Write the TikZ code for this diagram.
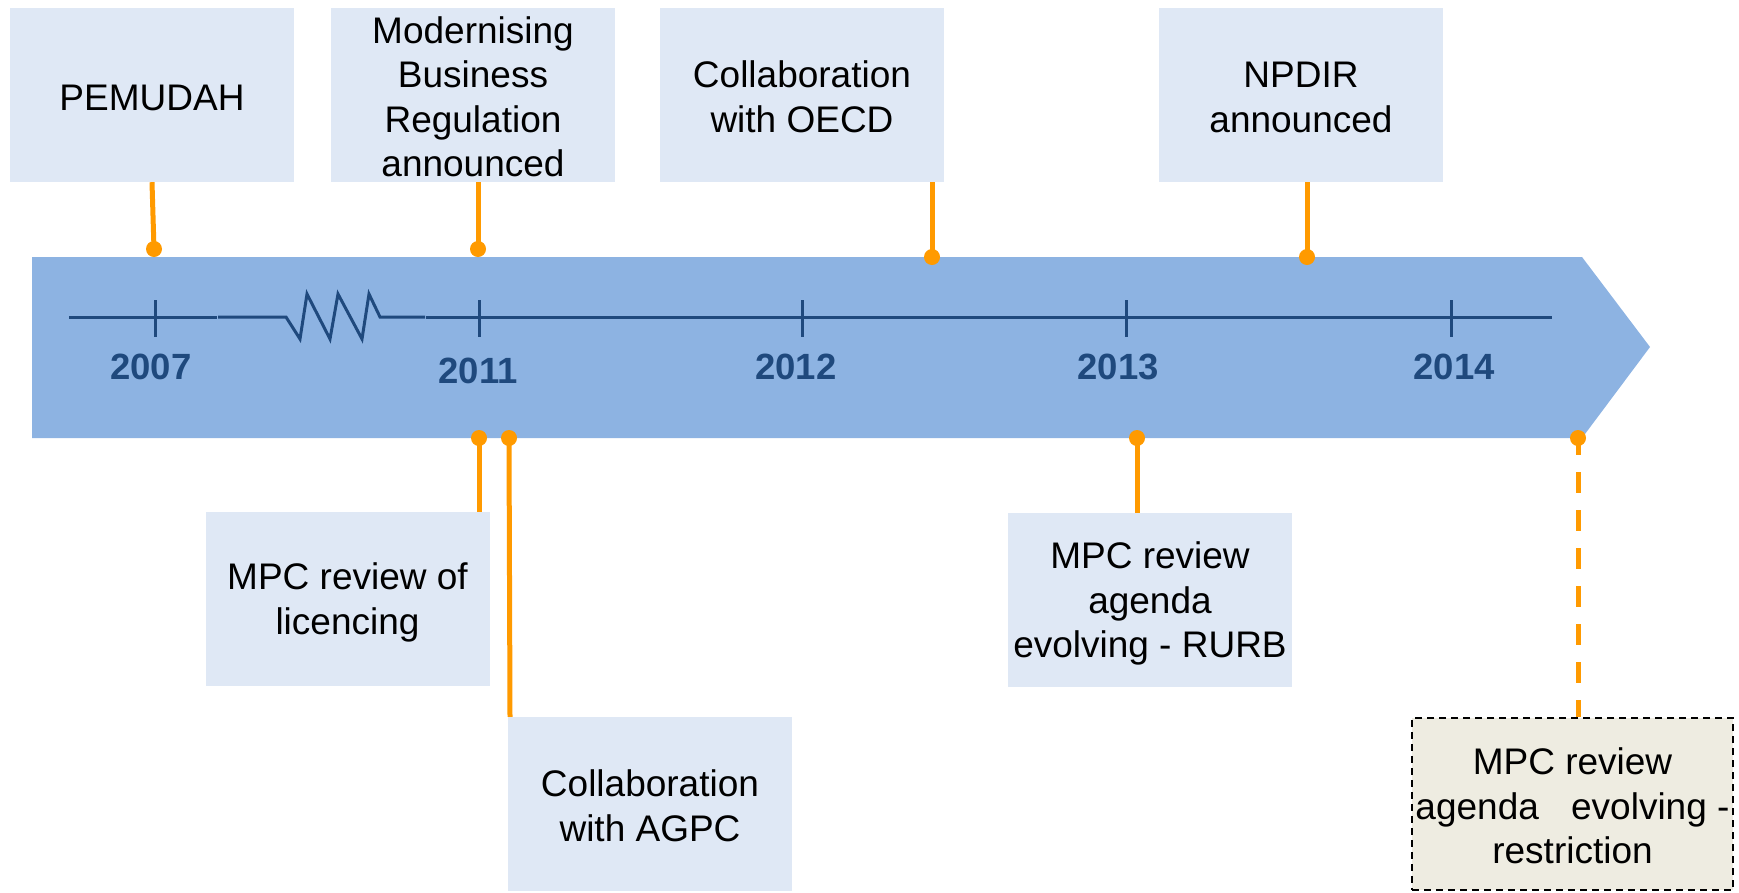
\documentclass[tikz,border=0pt]{standalone}
\usepackage{fontspec}
\setmainfont{Liberation Sans}
\newcommand\tp{\rule{0pt}{34pt}}
\newcommand\bt{\rule[-4pt]{0pt}{4pt}}
\definecolor{band}{HTML}{8DB3E2}
\definecolor{boxfill}{HTML}{DFE8F5}
\definecolor{tanfill}{HTML}{EEECE1}
\definecolor{navy}{HTML}{1F497D}
\definecolor{orng}{HTML}{FF9A00}
\begin{document}
\begin{tikzpicture}[x=1pt,y=-1pt,
  evbox/.style={rectangle, fill=boxfill, inner sep=0pt, minimum width=284pt, minimum height=174pt,
    align=center, font=\fontsize{37}{44.5}\selectfont},
  tanbox/.style={rectangle, fill=tanfill, draw=black, line width=1.8pt, dash pattern=on 7pt off 5pt,
    inner sep=0pt, minimum width=321pt, minimum height=172pt, align=center,
    font=\fontsize{37}{44.5}\selectfont},
  yr/.style={font=\fontsize{36.5}{40}\selectfont\bfseries, text=navy, anchor=base, inner sep=0pt},
  dot/.style={circle, fill=orng, inner sep=0pt, minimum size=16pt},
  conn/.style={draw=orng, line width=5pt},
  axisline/.style={draw=navy, line width=3pt},
  tick/.style={draw=navy, line width=3pt}]
\useasboundingbox (0,0) rectangle (1739,892);
% band arrow
\fill[band] (32,257) -- (1582,257) -- (1650,347) -- (1582,438) -- (32,438) -- cycle;
% axis
\draw[axisline] (69,317) -- (217,317);
\draw[axisline, line join=miter] (218,317) -- (286,317) -- (300,339) -- (307,294) -- (330,339) -- (338,294) -- (362,339) -- (369,294) -- (380,317) -- (425,317);
\draw[axisline] (426,317) -- (1552,317);
\foreach \x in {155,479,802,1126,1451} \draw[tick] (\x,300) -- (\x,337);
% years
\node[yr] (y2007) at (151,379) {2007};
\node[yr] (y2011) at (478,383) {2011};
\node[yr] (y2012) at (796,379) {2012};
\node[yr] (y2013) at (1118,379) {2013};
\node[yr] (y2014) at (1454,379) {2014};
% boxes
\node[evbox] (pem) at (152,95) {\tp\bt PEMUDAH};
\node[evbox] (mod) at (473,95) {\tp Modernising\\Business\\Regulation\\announced\bt};
\node[evbox] (oecd) at (802,95) {\tp Collaboration\\with OECD\bt};
\node[evbox] (npdir) at (1301,95) {\tp NPDIR\\announced\bt};
\node[evbox] (lic) at (347.5,599) {\tp MPC review of\\licencing\bt};
\node[evbox] (agpc) at (650,804) {\tp Collaboration\\with AGPC\bt};
\node[evbox] (rurb) at (1150,600) {\tp MPC review\\agenda\\evolving - RURB\bt};
\node[tanbox] (restr) at (1572.5,804) {\tp MPC review\\agenda\hspace{22pt} evolving -\\restriction\bt};
% dots
\node[dot] (d1) at (154,249) {};
\node[dot] (d2) at (478,249) {};
\node[dot] (d3) at (932,257) {};
\node[dot] (d4) at (1307,257) {};
\node[dot] (d5) at (479,438) {};
\node[dot] (d6) at (509,438) {};
\node[dot] (d7) at (1137,438) {};
\node[dot] (d8) at (1578,438) {};
% connectors
\draw[conn] (pem.south) -- (d1.center);
\draw[conn] (d2.center |- mod.south) -- (d2.center);
\draw[conn] (d3.center |- oecd.south) -- (d3.center);
\draw[conn] (d4.center |- npdir.south) -- (d4.center);
\draw[conn] (d5.center) -- (d5.center |- lic.north);
\draw[conn] (d6.center) -- ([xshift=1pt]d6.center |- agpc.north);
\draw[conn] (d7.center) -- (d7.center |- rurb.north);
\draw[conn, dash pattern=on 21pt off 17pt] ([yshift=4pt]d8.center) -- (d8.center |- restr.north);
\end{tikzpicture}
\end{document}
